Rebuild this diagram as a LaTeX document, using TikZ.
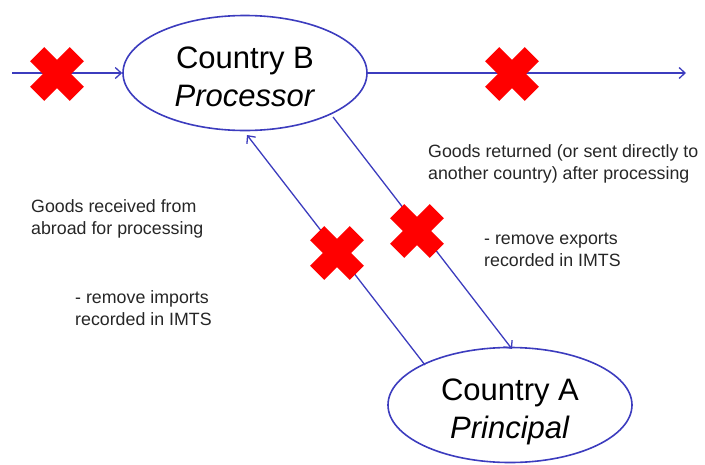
\documentclass[tikz,border=0pt]{standalone}
\usepackage{fontspec}
\setmainfont{Liberation Sans}
\usetikzlibrary{shapes.geometric,arrows.meta}
\definecolor{lineblue}{RGB}{60,60,190}
\tikzset{
  country/.style={ellipse, draw=lineblue, line width=1.6pt, minimum width=244pt, minimum height=115pt, inner sep=0pt, align=center, font=\fontsize{31}{38}\selectfont},
  flow/.style={draw=lineblue, line width=1.3pt, -{Straight Barb[length=6pt,width=11pt,line width=1.3pt]}},
  note/.style={anchor=base west, align=left, inner sep=0pt, font=\fontsize{17.8}{22}\selectfont, text=black!85},
  redx/.pic={
    \fill[red, rotate=45] (-28,-10) rectangle (28,10);
    \fill[red, rotate=45] (-10,-28) rectangle (10,28);
  }
}
\begin{document}
\begin{tikzpicture}[x=1pt,y=-1pt]
\useasboundingbox (0,0) rectangle (705,464);
\node[country] (B) at (245,73) {\rule{0pt}{30pt}Country B\\\textit{Processor}};
\node[country] (A) at (510,405) {\rule{0pt}{36pt}Country A\\\textit{Principal}};
\coordinate (in) at (12,73);
\coordinate (out) at (686,73);
\coordinate (a1) at (425,365);
\coordinate (b1) at (247,135);
\coordinate (b2) at (333,117);
\coordinate (a2) at (512,349);
\draw[flow] (in) -- (B.west);
\draw[flow] (B.east) -- (out);
\draw[flow] (a1) -- (b1);
\draw[flow] (b2) -- (a2);
\pic at (57,74) {redx};
\pic at (512,74) {redx};
\pic at (337,253) {redx};
\pic at (417,231) {redx};
\node[note] (t1) at (428,179) {Goods returned (or sent directly to\\another country) after processing};
\node[note] (t2) at (31,234) {Goods received from\\abroad for processing};
\node[note] (t3) at (75,325) {- remove imports\\recorded in IMTS};
\node[note] (t4) at (484,266) {- remove exports\\recorded in IMTS};
\end{tikzpicture}
\end{document}
